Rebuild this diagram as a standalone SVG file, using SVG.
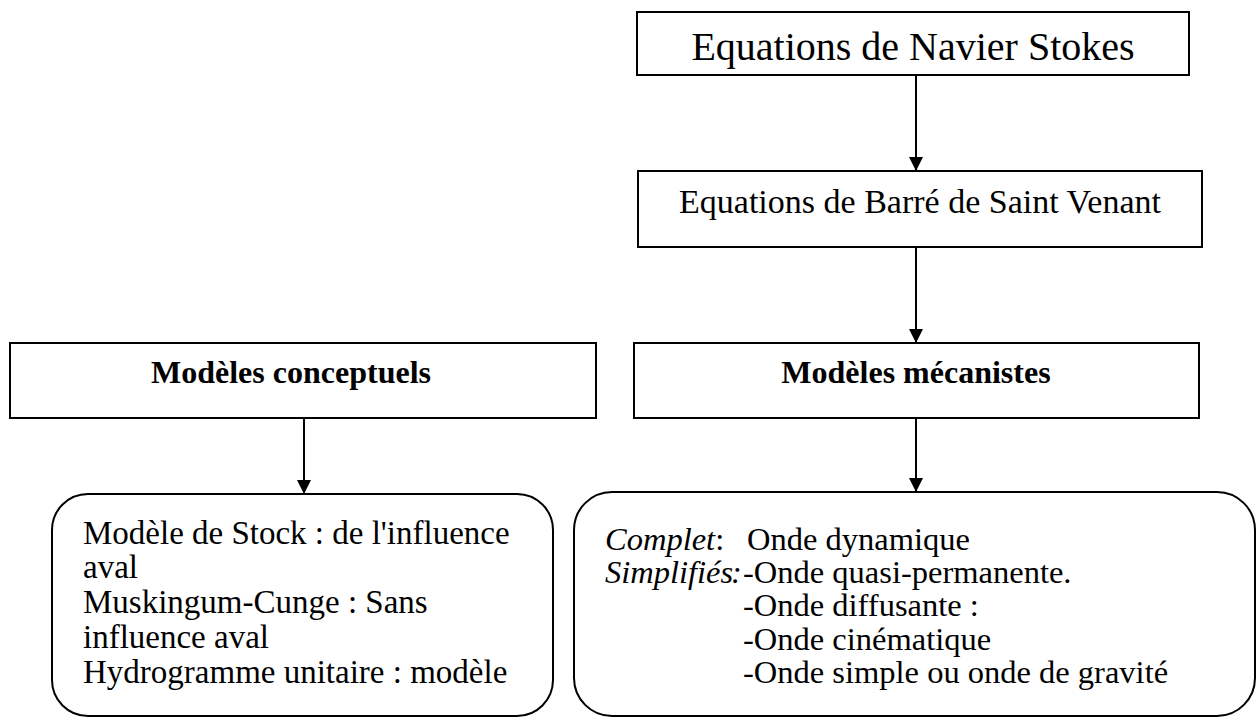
<svg xmlns="http://www.w3.org/2000/svg" width="1259" height="718" viewBox="0 0 1259 718">
<style>
.box{fill:#fff;stroke:#000;stroke-width:2}
.rbox{fill:#fff;stroke:#000;stroke-width:2}
.t{font-family:"Liberation Serif","Times New Roman",serif;fill:#000}
.b{font-weight:bold}
.i{font-style:italic}
.edge{stroke:#000;stroke-width:2;fill:none;marker-end:url(#ah)}
</style>
<defs>
<marker id="ah" viewBox="0 0 14 14" refX="14" refY="7" markerWidth="14" markerHeight="14" markerUnits="userSpaceOnUse" orient="auto">
<path d="M0,0 L14,7 L0,14 Z" fill="#000"/>
</marker>
</defs>
<g id="connectors">
<line class="edge" x1="916" y1="75" x2="916" y2="171"/>
<line class="edge" x1="916" y1="247" x2="916" y2="343"/>
<line class="edge" x1="304" y1="418" x2="304" y2="494"/>
<line class="edge" x1="916" y1="418" x2="916" y2="492"/>
</g>
<g id="navier">
<rect class="box" x="637" y="12" width="552" height="63"/>
<text class="t" x="913" y="60" font-size="40" text-anchor="middle">Equations de Navier Stokes</text>
</g>
<g id="saint-venant">
<rect class="box" x="638" y="171" width="564" height="76"/>
<text class="t" x="920" y="213" font-size="34" text-anchor="middle">Equations de Barré de Saint Venant</text>
</g>
<g id="conceptuels">
<rect class="box" x="10" y="343" width="586" height="75"/>
<text class="t b" x="291" y="383" font-size="32" text-anchor="middle">Modèles conceptuels</text>
</g>
<g id="mecanistes">
<rect class="box" x="634" y="343" width="565" height="75"/>
<text class="t b" x="916" y="383" font-size="32" text-anchor="middle">Modèles mécanistes</text>
</g>
<g id="conceptuels-detail">
<rect class="rbox" x="52" y="494" width="501" height="222" rx="36" ry="36"/>
<text class="t" font-size="33">
<tspan x="83" y="544">Modèle de Stock : de l'influence</tspan>
<tspan x="83" y="578">aval</tspan>
<tspan x="83" y="613">Muskingum-Cunge : Sans</tspan>
<tspan x="83" y="648">influence aval</tspan>
<tspan x="83" y="683">Hydrogramme unitaire : modèle</tspan>
</text>
</g>
<g id="mecanistes-detail">
<rect class="rbox" x="574" y="492" width="681" height="224" rx="38" ry="38"/>
<text class="t" font-size="32.5">
<tspan x="605" y="550" class="i">Complet</tspan><tspan>:</tspan>
<tspan x="747" y="550">Onde dynamique</tspan>
<tspan x="605" y="583" class="i">Simplifiés</tspan>
<tspan x="731" y="583" class="i">:</tspan>
<tspan x="743" y="583">-Onde quasi-permanente.</tspan>
<tspan x="743" y="616">-Onde diffusante :</tspan>
<tspan x="743" y="650">-Onde cinématique</tspan>
<tspan x="743" y="683">-Onde simple ou onde de gravité</tspan>
</text>
</g>
</svg>
